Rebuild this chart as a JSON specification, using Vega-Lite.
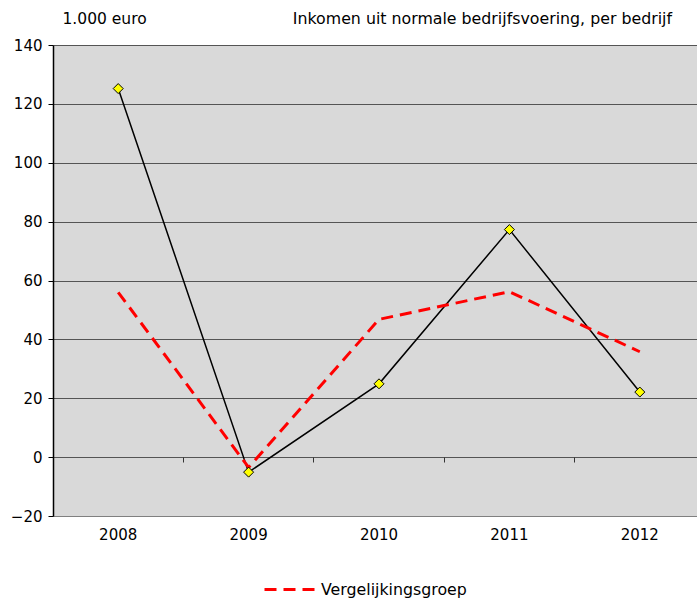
{
  "$schema": "https://vega.github.io/schema/vega-lite/v6.json",
  "width": 644,
  "height": 471,
  "autosize": "none",
  "padding": {"left": 53, "top": 45, "right": 0, "bottom": 82},
  "background": "white",
  "config": {
    "font": "DejaVu Sans",
    "view": {"fill": "#D9D9D9", "stroke": null}
  },
  "title": {
    "text": "Inkomen uit normale bedrijfsvoering, per bedrijf",
    "anchor": "end",
    "frame": "group",
    "fontSize": 15.8,
    "fontWeight": "normal",
    "color": "black",
    "baseline": "alphabetic",
    "offset": -29,
    "dx": -25
  },
  "data": {
    "values": [
      {"jaar": "2008", "serie": "Bedrijf", "waarde": 125.2},
      {"jaar": "2009", "serie": "Bedrijf", "waarde": -5.1},
      {"jaar": "2010", "serie": "Bedrijf", "waarde": 24.9},
      {"jaar": "2011", "serie": "Bedrijf", "waarde": 77.3},
      {"jaar": "2012", "serie": "Bedrijf", "waarde": 22.1},
      {"jaar": "2008", "serie": "Vergelijkingsgroep", "waarde": 56.0},
      {"jaar": "2009", "serie": "Vergelijkingsgroep", "waarde": -3.5},
      {"jaar": "2010", "serie": "Vergelijkingsgroep", "waarde": 46.8},
      {"jaar": "2011", "serie": "Vergelijkingsgroep", "waarde": 56.2},
      {"jaar": "2012", "serie": "Vergelijkingsgroep", "waarde": 35.8}
    ]
  },
  "encoding": {
    "y": {
      "field": "waarde",
      "type": "quantitative",
      "scale": {"domain": [-20, 140], "nice": false, "zero": false},
      "axis": {
        "title": "1.000 euro",
        "titleAngle": 0,
        "titleAlign": "left",
        "titleBaseline": "alphabetic",
        "titleX": 9,
        "titleY": -22,
        "titleFontSize": 15.5,
        "titleFontWeight": "normal",
        "titleColor": "black",
        "values": [-20, 0, 20, 40, 60, 80, 100, 120, 140],
        "labelFontSize": 15,
        "labelColor": "black",
        "labelPadding": 6,
        "tickSize": 5,
        "tickColor": "black",
        "tickWidth": 1,
        "domainColor": "black",
        "domainWidth": 1.5,
        "grid": true,
        "gridColor": {"condition": {"test": "datum.value === -20", "value": "#808080"}, "value": "#555555"},
        "gridWidth": 1
      }
    }
  },
  "layer": [
    {
      "transform": [{"filter": "datum.serie === 'Bedrijf'"}],
      "mark": {"type": "line", "color": "black", "strokeWidth": 1.5},
      "encoding": {
        "x": {
          "field": "jaar",
          "type": "ordinal",
          "scale": {"type": "band", "paddingInner": 0, "paddingOuter": 0, "range": [0, 652]},
          "axis": {
            "orient": "bottom",
            "title": null,
            "labelAngle": 0,
            "labelFontSize": 15,
            "labelColor": "black",
            "labelPadding": 11,
            "ticks": false,
            "domainColor": "#808080",
            "domainWidth": 1,
            "grid": false
          }
        }
      }
    },
    {
      "transform": [{"filter": "datum.serie === 'Vergelijkingsgroep'"}],
      "mark": {"type": "line", "strokeWidth": 3, "strokeDash": [12, 7], "strokeCap": "butt"},
      "encoding": {
        "x": {
          "field": "jaar",
          "type": "ordinal",
          "axis": {
            "orient": "bottom",
            "offset": -59,
            "title": null,
            "labels": false,
            "domain": false,
            "ticks": true,
            "tickSize": 5,
            "tickColor": "#333333",
            "tickWidth": 1,
            "bandPosition": 0,
            "grid": false
          }
        },
        "color": {
          "field": "serie",
          "type": "nominal",
          "scale": {"domain": ["Vergelijkingsgroep"], "range": ["#FF0000"]},
          "legend": {
            "orient": "none",
            "legendX": 210,
            "legendY": 518,
            "title": null,
            "symbolType": "stroke",
            "symbolSize": 2500,
            "symbolStrokeWidth": 3,
            "symbolDash": [12, 7],
            "labelFontSize": 15.8,
            "labelColor": "black",
            "labelOffset": 5
          }
        }
      }
    },
    {
      "transform": [{"filter": "datum.serie === 'Bedrijf'"}],
      "mark": {"type": "point", "shape": "diamond", "filled": true, "fill": "#FFFF00", "stroke": "black", "strokeWidth": 1, "size": 100, "opacity": 1},
      "encoding": {
        "x": {"field": "jaar", "type": "ordinal", "axis": null}
      }
    }
  ],
  "resolve": {"axis": {"x": "independent"}}
}
